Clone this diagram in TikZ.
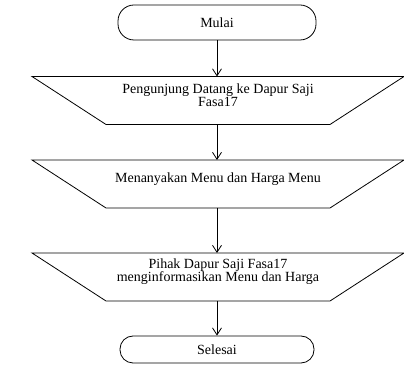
\documentclass[tikz,border=0pt]{standalone}
\usepackage{fontspec}
\setmainfont{Liberation Serif}
\usetikzlibrary{arrows.meta}

\begin{document}
\begin{tikzpicture}[x=1pt,y=1pt,line width=.8pt]

        \useasboundingbox (0,0) rectangle (404,374);

        \begin{scope}[every node/.style={font=\fontsize{14}{13}\selectfont, align=center}]
          \node[draw, rounded corners=16pt, minimum width=198pt, minimum height=35pt] (mulai) at (217,351.5) {Mulai};
          \node (datang) at (218,278.5) {Pengunjung Datang ke Dapur Saji\\Fasa17};
          \node (tanya)  at (218,195)   {Menanyakan Menu dan Harga Menu};
          \node (info)   at (218,102)   {Pihak Dapur Saji Fasa17\\menginformasikan Menu dan Harga};
          \node[draw, rounded corners=13pt, minimum width=194pt, minimum height=27pt] (selesai) at (217,24.5) {Selesai};
        \end{scope}

        % trapezium outlines around the text nodes
        \foreach \n in {datang,tanya,info} {
          \coordinate (\n-top) at ([yshift=19pt]\n.center);
          \coordinate (\n-bot) at ([yshift=-29pt]\n.center);
          \draw ([xshift=-112pt]\n-bot) -- ([xshift=112pt]\n-bot)
             -- ([xshift=186pt]\n-top) -- ([xshift=-186pt]\n-top) -- cycle;
        }

        \begin{scope}[every edge/.style={draw, -{Straight Barb[length=7pt,width=9pt]}}]
          \path (mulai.south)  edge (mulai.south |- datang-top);
          \path (datang-bot -| mulai) edge (tanya-top -| mulai);
          \path (tanya-bot -| mulai)  edge (info-top -| mulai);
          \path (info-bot -| mulai)   edge (selesai.north);
        \end{scope}

      \end{tikzpicture}
\end{document}
